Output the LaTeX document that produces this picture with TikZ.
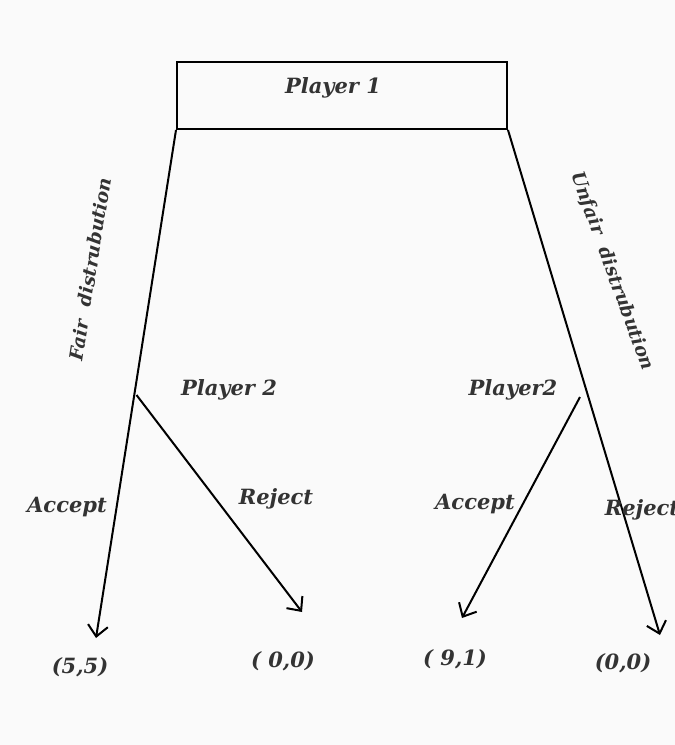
\documentclass[tikz,border=0pt]{standalone}
\usepackage{fontspec}
\setmainfont{DejaVu Serif}
\usetikzlibrary{arrows.meta}
\definecolor{bg}{HTML}{FAFAFA}
\definecolor{ink}{HTML}{333333}
\tikzset{
  lbl/.style={font=\fontsize{21}{24}\selectfont\bfseries\itshape, text=ink, inner sep=0pt},
  rlbl/.style={lbl, font=\fontsize{18.5}{22}\selectfont\bfseries\itshape},
  edge/.style={line width=2pt, black},
  arr/.style={edge, -{Straight Barb[length=11pt,width=20pt,line width=2pt]}},
}
\begin{document}
\begin{tikzpicture}[x=1pt,y=-1pt]
\useasboundingbox (0,0) rectangle (675,745);
\fill[bg] (0,0) rectangle (675,745);
% top box
\node[draw, line width=2pt, minimum width=330pt, minimum height=67pt, inner sep=0pt] (p1) at (342,95.5) {};
\node[lbl] (p1t) at (333,88) {Player 1};
% junctions and tips
\coordinate (j1) at (136.5,395);
\coordinate (j2) at (580,397);
\coordinate (a1) at (96,638);
\coordinate (r1) at (302,612);
\coordinate (a2) at (462,618);
\coordinate (r2) at (660,635);
% edges
\draw[arr] (p1.south west) -- (a1);
\draw[arr] (j1) -- (r1);
\draw[arr] (p1.south east) -- (r2);
\draw[arr] (j2) -- (a2);
% labels
\node[rlbl, rotate=81] (fair) at (90,269) {Fair\hspace{14pt}distrubution};
\node[rlbl, rotate=-70] (unfair) at (612,271) {Unfair\hspace{14pt}distrubution};
\node[lbl] (pl2a) at (229,390) {Player 2};
\node[lbl] (pl2b) at (513,390) {Player2};
\node[lbl] (acc1) at (67,507) {Accept};
\node[lbl] (rej1) at (276,499) {Reject};
\node[lbl] (acc2) at (475,504) {Accept};
\node[lbl] (rej2) at (642,510) {Reject};
\node[lbl] (pay1) at (80,667) {(5,5)};
\node[lbl] (pay2) at (283,661) {( 0,0)};
\node[lbl] (pay3) at (455,659) {( 9,1)};
\node[lbl] (pay4) at (623,663) {(0,0)};
\end{tikzpicture}
\end{document}
